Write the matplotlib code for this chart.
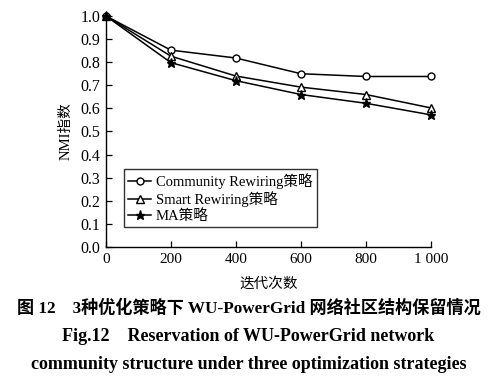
import matplotlib
matplotlib.use("Agg")
import matplotlib.pyplot as plt

plt.rcParams['font.family'] = ['Liberation Serif', 'Noto Sans CJK SC']
plt.rcParams['axes.unicode_minus'] = False

# data -------------------------------------------------------------------#
iterations = [0, 200, 400, 600, 800, 1000]
community_rewiring = [1.0, 0.852, 0.818, 0.750, 0.738, 0.738]
smart_rewiring = [1.0, 0.826, 0.740, 0.692, 0.660, 0.602]
ma_strategy = [1.0, 0.798, 0.720, 0.660, 0.622, 0.572]

series_labels = ['Community Rewiring策略', 'Smart Rewiring策略', 'MA策略']
x_ticks = [0, 200, 400, 600, 800, 1000]
x_tick_labels = ['0', '200', '400', '600', '800', '1 000']
y_ticks = [0.0, 0.1, 0.2, 0.3, 0.4, 0.5, 0.6, 0.7, 0.8, 0.9, 1.0]

fig = plt.figure(figsize=(4.97, 3.89), dpi=100)
ax = fig.add_axes([0.213, 0.365, 0.654, 0.594])

ax.plot(iterations, community_rewiring, color='black', lw=1.1, marker='o',
        ms=5, mfc='white', mec='black', mew=1.0, label=series_labels[0])
ax.plot(iterations, smart_rewiring, color='black', lw=1.1, marker='^',
        ms=5.5, mfc='white', mec='black', mew=1.0, label=series_labels[1])
ax.plot(iterations, ma_strategy, color='black', lw=1.1, marker='*',
        ms=6.5, mfc='black', mec='black', label=series_labels[2])

ax.set_xlim(0, 1000)
ax.set_ylim(0, 1.0)
ax.set_xticks(x_ticks)
ax.set_xticklabels(x_tick_labels)
ax.set_yticks(y_ticks)
ax.set_yticklabels([f'{v:.1f}' for v in y_ticks])
ax.spines['top'].set_visible(False)
ax.spines['right'].set_visible(False)
ax.spines['left'].set_linewidth(1.0)
ax.spines['bottom'].set_linewidth(1.0)
ax.tick_params(direction='in', length=4, width=0.9, labelsize=11)
ax.tick_params(axis='y', pad=4, labelsize=11.5)
ax.tick_params(axis='x', pad=4)
for ln in ax.lines:
    ln.set_clip_on(False)

ax.set_xlabel('迭代次数', fontsize=10.5, labelpad=8)
ax.set_ylabel('NMI指数', fontsize=10.5, labelpad=6)

leg = ax.legend(loc='lower left', bbox_to_anchor=(0.055, 0.085), fontsize=10.5,
                frameon=True, fancybox=False, edgecolor='black',
                handlelength=1.6, handletextpad=0.3, borderpad=0.3,
                labelspacing=0.15, borderaxespad=0)
leg.get_frame().set_linewidth(1.0)

fig.text(0.5, 0.208, '图 12    3种优化策略下 WU-PowerGrid 网络社区结构保留情况',
         ha='center', va='center', fontsize=12.3, fontweight='bold')
fig.text(0.5, 0.134, 'Fig.12    Reservation of WU-PowerGrid network',
         ha='center', va='center', fontsize=13, fontweight='bold')
fig.text(0.5, 0.062, 'community structure under three optimization strategies',
         ha='center', va='center', fontsize=13, fontweight='bold')

fig.savefig('out.png', dpi=100)
